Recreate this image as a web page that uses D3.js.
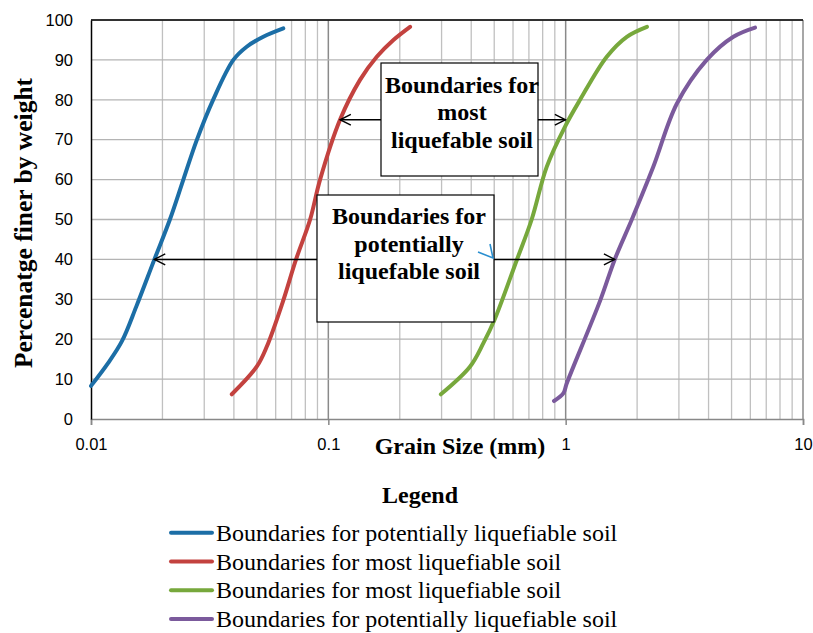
<!DOCTYPE html>
<html>
<head>
<meta charset="utf-8">
<title></title>
<style>
	body { margin: 0; background: #fff; }
	text { fill: #000; }
	.serif { font-family: "Liberation Serif", "Times New Roman", "DejaVu Serif", serif; }
	.sans { font-family: "Liberation Sans", Arial, sans-serif; }
</style>
</head>
<body>
<svg id="container" width="813" height="633"></svg>
<script src="https://cdn.jsdelivr.net/npm/d3@7/dist/d3.min.js"></script>
<script>
	// grain size (mm) and percent finer
	let blueX = [0.01, 0.0118, 0.0135, 0.0155, 0.0185, 0.0215, 0.0245, 0.0279, 0.0327, 0.0398, 0.0453, 0.0532, 0.0646]
	let blueY = [8.3, 14, 19.5, 28.1, 40, 50, 60, 69.9, 80, 90, 93.3, 95.8, 97.9]
	let redX = [0.0392, 0.0499, 0.055, 0.064, 0.0731, 0.0838, 0.0923, 0.112, 0.136, 0.16, 0.188, 0.221]
	let redY = [6.2, 13.1, 18.1, 29, 40, 50, 60, 75, 85, 90.8, 95, 98.3]
	let greenX = [0.298, 0.395, 0.45, 0.501, 0.622, 0.719, 0.832, 0.994, 1.15, 1.49, 1.81, 2.2]
	let greenY = [6.2, 13.1, 19, 24.8, 39.8, 50, 63.2, 73.3, 80, 90.8, 95.8, 98.3]
	let purpleX = [0.893, 0.977, 1.01, 1.4, 1.61, 1.9, 2.34, 2.94, 3.93, 5.09, 6.28]
	let purpleY = [4.5, 6.4, 8.9, 29.8, 40, 50, 63.2, 79, 90, 95.8, 98.1]

	let seriesNames = ["Boundaries for potentially liquefiable soil", "Boundaries for most liquefiable soil",
		"Boundaries for most liquefiable soil", "Boundaries for potentially liquefiable soil"]
	let colors = ["#1c6ea6", "#c3423f", "#77a83c", "#7b5a9c"]
	let xTicks = [0.01, 0.1, 1, 10]
	let yTicks = [0, 10, 20, 30, 40, 50, 60, 70, 80, 90, 100]

	let series = [[blueX, blueY], [redX, redY], [greenX, greenY], [purpleX, purpleY]]
		.map((s, i) => ({ name: seriesNames[i], color: colors[i], points: s[0].map((x, j) => [x, s[1][j]]) }))

	let svg = d3.select("#container")
	let pLeft = 91, pRight = 803, pTop = 20, pBottom = 419

	let x = d3.scaleLog().domain([0.01, 10]).range([pLeft, pRight])
	let y = d3.scaleLinear().domain([0, 100]).range([pBottom, pTop])

	// minor grid for every 1..9 in each decade
	let minor = []
	for (let d = 0.01; d < 10; d *= 10) for (let k = 2; k <= 9; k++) minor.push(d * k)

	svg.append("g").selectAll("line").data(minor).enter().append("line")
		.attr("x1", d => x(d)).attr("x2", d => x(d))
		.attr("y1", pTop).attr("y2", pBottom)
		.attr("stroke", "#c0c0c0").attr("stroke-width", 1.3)
	svg.append("g").selectAll("line").data([0.1, 1, 10]).enter().append("line")
		.attr("x1", d => x(d)).attr("x2", d => x(d))
		.attr("y1", pTop).attr("y2", pBottom)
		.attr("stroke", "#8a8a8a").attr("stroke-width", 1.5)
	svg.append("g").selectAll("line").data(yTicks.slice(1)).enter().append("line")
		.attr("x1", pLeft).attr("x2", pRight)
		.attr("y1", d => y(d)).attr("y2", d => y(d))
		.attr("stroke", "#b4b4b4").attr("stroke-width", 1.3)

	// top border
	svg.append("line").attr("x1", pLeft).attr("x2", pRight).attr("y1", pTop).attr("y2", pTop)
		.attr("stroke", "#000").attr("stroke-width", 1.3)

	// x axis
	let xAxis = d3.axisBottom(x).tickValues(xTicks).tickFormat(d => String(d)).tickSize(6).tickPadding(13)
	let gx = svg.append("g").attr("transform", `translate(0,${pBottom})`).call(xAxis)
	gx.attr("font-family", null).attr("font-size", null)
	gx.select(".domain").attr("stroke", "#888").attr("stroke-width", 1.5)
	gx.selectAll(".tick line").attr("stroke", "#888").attr("stroke-width", 1.5)
	gx.selectAll("text").attr("class", "sans").attr("font-size", 16.5).attr("fill", "#000")

	// y axis
	let yAxis = d3.axisLeft(y).tickValues(yTicks).tickSize(0).tickPadding(18)
	let gy = svg.append("g").attr("transform", `translate(${pLeft},0)`).call(yAxis)
	gy.attr("font-family", null).attr("font-size", null)
	gy.select(".domain").attr("stroke", "#000").attr("stroke-width", 1.5)
	gy.selectAll("text").attr("class", "sans").attr("font-size", 16.5).attr("fill", "#000")

	// curves
	let line = d3.line().x(d => x(d[0])).y(d => y(d[1])).curve(d3.curveCatmullRom.alpha(0.5))
	svg.append("g").selectAll("path").data(series).enter().append("path")
		.attr("d", d => line(d.points))
		.attr("fill", "none").attr("stroke", d => d.color)
		.attr("stroke-width", 4).attr("stroke-linecap", "round")

	// axis titles
	svg.append("text").attr("class", "serif").attr("x", 460).attr("y", 454).attr("text-anchor", "middle")
		.attr("font-weight", "bold").attr("font-size", 24)
		.text("Grain Size (mm)")
	svg.append("text").attr("class", "serif").attr("transform", "translate(32,223) rotate(-90)").attr("text-anchor", "middle")
		.attr("font-weight", "bold").attr("font-size", 25.5)
		.text("Percenatge finer by weight")

	// annotation arrows
	let defs = svg.append("defs")
	defs.append("marker").attr("id", "arr").attr("viewBox", "0 0 12 12").attr("refX", 11).attr("refY", 6)
		.attr("markerWidth", 13).attr("markerHeight", 13).attr("markerUnits", "userSpaceOnUse").attr("orient", "auto")
		.append("path").attr("d", "M1,1 L11,6 L1,11").attr("fill", "none").attr("stroke", "#000").attr("stroke-width", 1.3)

	function arrow(x1, x2, yv) {
		svg.append("line").attr("x1", x1).attr("x2", x2).attr("y1", y(yv)).attr("y2", y(yv))
			.attr("stroke", "#000").attr("stroke-width", 1.5).attr("marker-end", "url(#arr)")
	}
	arrow(381, x(0.112), 75)
	arrow(538, x(1.0), 75)
	arrow(317, x(0.0185), 40)
	arrow(494, x(1.61), 40)

	function box(x0, y0, w, h, cx, lines, baselines) {
		svg.append("rect").attr("x", x0).attr("y", y0).attr("width", w).attr("height", h)
			.attr("fill", "#fff").attr("stroke", "#000").attr("stroke-width", 1.2)
		lines.forEach((t, i) => svg.append("text").attr("class", "serif").attr("x", cx).attr("y", baselines[i])
			.attr("text-anchor", "middle")
			.attr("font-weight", "bold").attr("font-size", 24).text(t))
	}
	box(317, 195, 177, 127, 409, ["Boundaries for", "potentially", "liquefable soil"], [224, 252, 279])
	box(381, 63, 157, 113, 462, ["Boundaries for", "most", "liquefable soil"], [93, 120, 148])

	// small stray blue tick near the box
	svg.append("path").attr("d", "M478,252 L493,258 L490,244").attr("fill", "none")
		.attr("stroke", "#2a8fd0").attr("stroke-width", 1.6)

	// legend
	svg.append("text").attr("class", "serif").attr("x", 420).attr("y", 503).attr("text-anchor", "middle")
		.attr("font-weight", "bold").attr("font-size", 24)
		.text("Legend")
	let lg = svg.append("g").selectAll("g").data(series).enter().append("g")
		.attr("transform", (d, i) => `translate(0,${532.7 + i * 28.8})`)
	lg.append("line").attr("x1", 171).attr("x2", 212).attr("y1", 0).attr("y2", 0)
		.attr("stroke", d => d.color).attr("stroke-width", 4).attr("stroke-linecap", "round")
	lg.append("text").attr("class", "serif").attr("x", 216).attr("y", 8).attr("font-size", 24)
		.text(d => d.name)
</script>
</body>
</html>
